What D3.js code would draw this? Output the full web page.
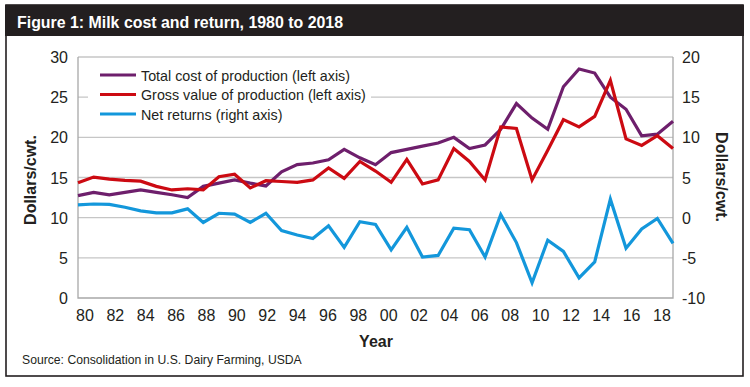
<!DOCTYPE html>
<html>
<head>
<meta charset="utf-8">
<script src="https://cdn.jsdelivr.net/npm/d3@7"></script>
<style>
  body { margin: 0; background: #fff; }
  text { font-family: "Liberation Sans", Arial, sans-serif; }
</style>
</head>
<body>
<div id="chart"></div>
<script>
var years = d3.range(1980, 2019);

// Dollars per cwt, left axis
var totalCost = [12.75, 13.15, 12.85, 13.15, 13.45, 13.15, 12.85, 12.5, 13.9, 14.3,
  14.7, 14.3, 13.95, 15.7, 16.6, 16.8, 17.2, 18.5, 17.45, 16.6,
  18.1, 18.5, 18.9, 19.3, 20.0, 18.6, 19.05, 21.0, 24.2, 22.4,
  21.0, 26.3, 28.5, 28.0, 25.0, 23.5, 20.2, 20.4, 22.0];

var grossValue = [14.35, 15.05, 14.8, 14.65, 14.55, 13.9, 13.45, 13.6, 13.45, 15.1,
  15.4, 13.7, 14.6, 14.5, 14.4, 14.7, 16.2, 14.9, 17.0, 15.8,
  14.4, 17.25, 14.2, 14.7, 18.6, 17.0, 14.7, 21.3, 21.1, 14.7,
  18.4, 22.2, 21.3, 22.6, 27.1, 19.8, 19.0, 20.2, 18.6];

// Dollars per cwt, right axis
var netReturns = [1.6, 1.7, 1.65, 1.3, 0.85, 0.6, 0.6, 1.1, -0.6, 0.55,
  0.45, -0.6, 0.55, -1.6, -2.15, -2.6, -1.0, -3.7, -0.5, -0.85,
  -4.0, -1.2, -4.9, -4.7, -1.3, -1.5, -4.9, 0.4, -3.1, -8.1,
  -2.8, -4.2, -7.5, -5.5, 2.3, -3.8, -1.4, -0.1, -3.2];

var tickYears = d3.range(1980, 2019, 2);
var leftTicks = [0, 5, 10, 15, 20, 25, 30];
var rightTicks = [-10, -5, 0, 5, 10, 15, 20];

var series = [
  {name: "Total cost of production (left axis)", values: totalCost, color: "#6e1f6c", axis: "left"},
  {name: "Gross value of production (left axis)", values: grossValue, color: "#cc0a12", axis: "left"},
  {name: "Net returns (right axis)", values: netReturns, color: "#1397db", axis: "right"}
];

var W = 750, H = 387;
var plot = {left: 78, right: 673, top: 57, bottom: 298};

var svg = d3.select("#chart").append("svg")
    .attr("width", W)
    .attr("height", H);

// frame + title bar
svg.append("rect")
    .attr("x", 6).attr("y", 5).attr("width", 737).attr("height", 371)
    .attr("fill", "#fff").attr("stroke", "#231f20").attr("stroke-width", 1.6);
svg.append("rect")
    .attr("x", 5).attr("y", 5).attr("width", 739).attr("height", 31)
    .attr("fill", "#231f20");
svg.append("text")
    .attr("x", 17).attr("y", 28)
    .attr("fill", "#fff")
    .style("font-size", "17px").style("font-weight", "bold")
    .attr("textLength", 326).attr("lengthAdjust", "spacingAndGlyphs")
    .text("Figure 1: Milk cost and return, 1980 to 2018");

var x = d3.scaleLinear().domain([1980, 2018]).range([plot.left, plot.right]);
var xLabel = d3.scalePoint().domain(tickYears).range([85, 662]);
var yL = d3.scaleLinear().domain([0, 30]).range([plot.bottom, plot.top]);
var yR = d3.scaleLinear().domain([-10, 20]).range([plot.bottom, plot.top]);

// grid lines
svg.append("g")
  .selectAll("line").data(leftTicks.filter(d => d > 0)).join("line")
    .attr("x1", plot.left).attr("x2", plot.right)
    .attr("y1", d => yL(d)).attr("y2", d => yL(d))
    .attr("stroke", "#c6c6c6").attr("stroke-width", 1.3);

// plot border (left, bottom, right)
svg.append("path")
    .attr("d", "M" + plot.left + "," + plot.top + "V" + plot.bottom + "H" + plot.right + "V" + plot.top)
    .attr("fill", "none").attr("stroke", "#a8a8a8").attr("stroke-width", 1.3);

// left axis labels
svg.append("g").selectAll("text").data(leftTicks).join("text")
    .attr("x", 68).attr("y", d => yL(d) + 6)
    .attr("text-anchor", "end")
    .style("font-size", "16px").attr("fill", "#231f20")
    .text(d => d);

// right axis labels
svg.append("g").selectAll("text").data(rightTicks).join("text")
    .attr("x", 682).attr("y", d => yR(d) + 6)
    .style("font-size", "16px").attr("fill", "#231f20")
    .text(d => d);

// x labels
svg.append("g").selectAll("text").data(tickYears).join("text")
    .attr("x", d => xLabel(d)).attr("y", 321)
    .attr("text-anchor", "middle")
    .style("font-size", "16px").attr("fill", "#231f20")
    .text(d => String(d).slice(2));

// axis titles
svg.append("text")
    .attr("transform", "translate(36,180) rotate(-90)")
    .attr("text-anchor", "middle")
    .style("font-size", "16px").style("font-weight", "bold").attr("fill", "#231f20")
    .text("Dollars/cwt.");
svg.append("text")
    .attr("transform", "translate(716,177) rotate(90)")
    .attr("text-anchor", "middle")
    .style("font-size", "16px").style("font-weight", "bold").attr("fill", "#231f20")
    .text("Dollars/cwt.");
svg.append("text")
    .attr("x", 376).attr("y", 347)
    .attr("text-anchor", "middle")
    .style("font-size", "16px").style("font-weight", "bold").attr("fill", "#231f20")
    .text("Year");

svg.append("text")
    .attr("x", 22).attr("y", 364)
    .style("font-size", "12.2px").attr("fill", "#231f20")
    .text("Source: Consolidation in U.S. Dairy Farming, USDA");

// legend box (white, hides grid)
svg.append("rect")
    .attr("x", 88).attr("y", 64).attr("width", 283).attr("height", 60)
    .attr("fill", "#fff");

// lines
series.forEach(function(s) {
  var yScale = s.axis === "left" ? yL : yR;
  var line = d3.line()
    .x(function(d, i) { return x(years[i]); })
    .y(function(d) { return yScale(d); });
  svg.append("path")
    .datum(s.values)
    .attr("fill", "none")
    .attr("stroke", s.color)
    .attr("stroke-width", 3.2)
    .attr("stroke-linejoin", "miter")
    .attr("d", line);
});

// legend
var legend = svg.append("g").selectAll("g").data(series).join("g")
    .attr("transform", (d, i) => "translate(100," + (75 + i * 19.5) + ")");
legend.append("line")
    .attr("x1", 0).attr("x2", 36)
    .attr("stroke", d => d.color).attr("stroke-width", 3.2);
legend.append("text")
    .attr("x", 41).attr("y", 5.5)
    .style("font-size", "14.3px").attr("fill", "#231f20")
    .text(d => d.name);
</script>
</body>
</html>
